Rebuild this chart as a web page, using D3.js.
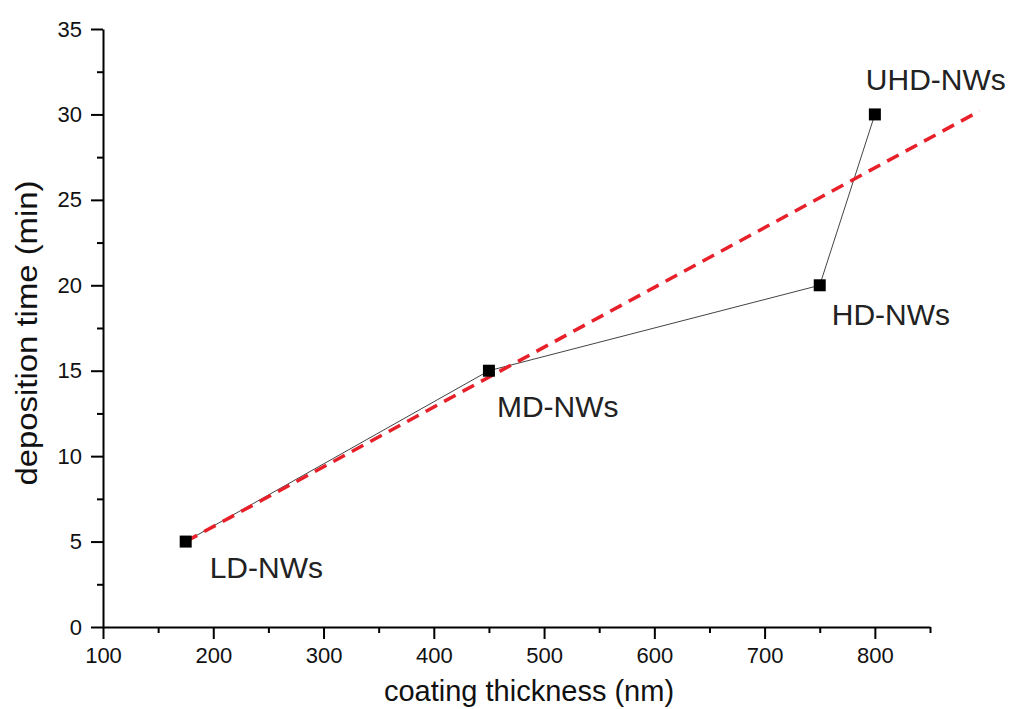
<!DOCTYPE html>
<html>
<head>
<meta charset="utf-8">
<script src="https://cdn.jsdelivr.net/npm/d3@7"></script>
<style>
  body { margin: 0; background: #fff; }
  svg { font-family: "Liberation Sans", Arial, sans-serif; }
</style>
</head>
<body>
<div id="chart"></div>
<script>
// measured points
const thickness = [175, 450, 750, 800];
const depTime = [5, 15, 20, 30];
const names = ["LD-NWs", "MD-NWs", "HD-NWs", "UHD-NWs"];

// linear fit line (red dashed)
const fitX = [175, 895];
const fitY = [5.0, 30.2];

const xTicks = [100, 200, 300, 400, 500, 600, 700, 800];
const yTicks = [0, 5, 10, 15, 20, 25, 30, 35];

function createChart() {
    var width = 1011;
    var height = 709;
    var margin = {top: 29, right: 81, bottom: 82, left: 103};

    var x = d3.scaleLinear()
        .domain([100, 850])
        .range([margin.left, width - margin.right]);

    var y = d3.scaleLinear()
        .domain([0, 35])
        .range([height - margin.bottom, margin.top]);

    var svg = d3.select("#chart")
        .append("svg")
            .attr("width", width)
            .attr("height", height);

    // minor ticks first
    svg.append("g")
        .attr("transform", `translate(0,${height - margin.bottom})`)
        .call(d3.axisBottom(x).tickValues(d3.range(150, 851, 100)).tickSize(6).tickFormat(""))
        .call(g => g.select(".domain").remove())
        .call(g => g.selectAll("line").attr("stroke", "#000").attr("stroke-width", 2));

    svg.append("g")
        .attr("transform", `translate(${margin.left},0)`)
        .call(d3.axisLeft(y).tickValues(d3.range(2.5, 35, 5)).tickSize(6).tickFormat(""))
        .call(g => g.select(".domain").remove())
        .call(g => g.selectAll("line").attr("stroke", "#000").attr("stroke-width", 2));

    // major axes
    svg.append("g")
        .attr("transform", `translate(0,${height - margin.bottom})`)
        .call(d3.axisBottom(x).tickValues(xTicks).tickSize(12).tickSizeOuter(0).tickPadding(8))
        .call(g => g.select(".domain").attr("stroke", "#000").attr("stroke-width", 2))
        .call(g => g.selectAll("line").attr("stroke", "#000").attr("stroke-width", 2))
        .call(g => g.selectAll("text").style("font-size", "22px").attr("fill", "#111")
            .style("font-family", "Liberation Sans, Arial, sans-serif"));

    svg.append("g")
        .attr("transform", `translate(${margin.left},0)`)
        .call(d3.axisLeft(y).tickValues(yTicks).tickSize(12).tickSizeOuter(0).tickPadding(9))
        .call(g => g.select(".domain").attr("stroke", "#000").attr("stroke-width", 2))
        .call(g => g.selectAll("line").attr("stroke", "#000").attr("stroke-width", 2))
        .call(g => g.selectAll("text").style("font-size", "22px").attr("fill", "#111")
            .style("font-family", "Liberation Sans, Arial, sans-serif"));

    // axis titles
    svg.append("text")
        .attr("x", 529)
        .attr("y", 701)
        .attr("text-anchor", "middle")
        .attr("font-size", 29)
        .attr("fill", "#111")
        .text("coating thickness (nm)");

    svg.append("text")
        .attr("transform", "translate(37,333) rotate(-90)")
        .attr("text-anchor", "middle")
        .attr("font-size", 30)
        .attr("textLength", 305)
        .attr("lengthAdjust", "spacingAndGlyphs")
        .attr("fill", "#111")
        .text("deposition time (min)");

    var pts = thickness.map((t, i) => ({x: t, y: depTime[i], name: names[i]}));

    // connecting line
    svg.append("path")
        .datum(pts)
        .attr("fill", "none")
        .attr("stroke", "#444")
        .attr("stroke-width", 1)
        .attr("d", d3.line().x(d => x(d.x)).y(d => y(d.y)));

    // fit line
    var fit = fitX.map((v, i) => [v, fitY[i]]);
    svg.append("path")
        .datum(fit)
        .attr("fill", "none")
        .attr("stroke", "#e8202a")
        .attr("stroke-width", 3.5)
        .attr("stroke-dasharray", "13,8")
        .attr("d", d3.line().x(d => x(d[0])).y(d => y(d[1])));

    // markers
    svg.selectAll("rect.pt")
        .data(pts)
        .join("rect")
            .attr("class", "pt")
            .attr("x", d => x(d.x) - 6)
            .attr("y", d => y(d.y) - 6)
            .attr("width", 12)
            .attr("height", 12)
            .attr("fill", "#000");

    // point labels (offsets in px from the marker)
    var labelOff = [[24, 36], [8, 46], [12, 40], [-9, -24]];
    svg.selectAll("text.lbl")
        .data(pts)
        .join("text")
            .attr("class", "lbl")
            .attr("x", (d, i) => x(d.x) + labelOff[i][0])
            .attr("y", (d, i) => y(d.y) + labelOff[i][1])
            .attr("font-size", 30)
            .attr("fill", "#222")
            .text(d => d.name);
}

createChart();
</script>
</body>
</html>
